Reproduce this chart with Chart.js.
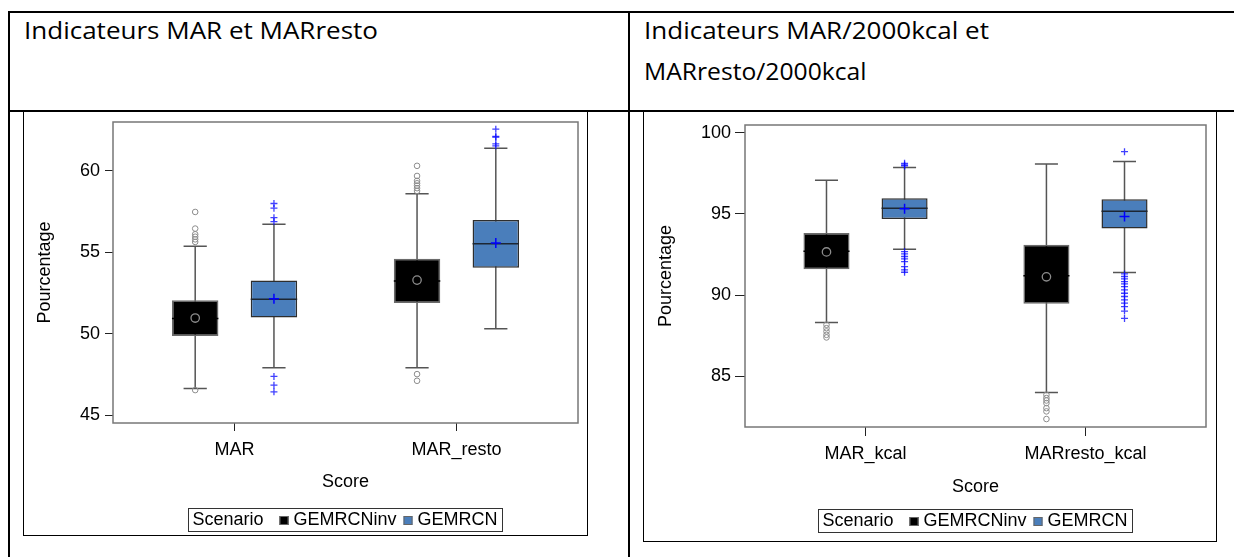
<!DOCTYPE html>
<html>
<head>
<meta charset="utf-8">
<script src="https://cdn.jsdelivr.net/npm/chart.js@4.4.0/dist/chart.umd.min.js"></script>
<style>
  body { margin:0; background:#fff; width:1234px; height:557px; overflow:hidden; position:relative; }
  .ln { position:absolute; background:#000; }
  .hd { position:absolute; font-family:"Open Sans", sans-serif; font-size:23px; line-height:23px; color:#000; white-space:nowrap; transform-origin:0 0; }
  .cv { position:absolute; }
</style>
</head>
<body>
<!-- table borders -->
<div class="ln" style="left:8px;top:11px;width:1226px;height:2px"></div>
<div class="ln" style="left:8px;top:110px;width:1226px;height:2px"></div>
<div class="ln" style="left:8px;top:11px;width:2px;height:546px"></div>
<div class="ln" style="left:628px;top:11px;width:2px;height:546px"></div>
<!-- picture frames -->
<div class="ln" style="left:23px;top:112px;width:1px;height:424px"></div>
<div class="ln" style="left:23px;top:535px;width:565px;height:1px"></div>
<div class="ln" style="left:587px;top:112px;width:1px;height:424px"></div>
<div class="ln" style="left:643px;top:112px;width:1px;height:430px"></div>
<div class="ln" style="left:643px;top:541px;width:574px;height:1px"></div>
<div class="ln" style="left:1216px;top:112px;width:1px;height:430px"></div>

<div class="hd" data-w="354" style="left:24px;top:19px">Indicateurs MAR et MARresto</div>
<div class="hd" data-w="345" style="left:644px;top:19px">Indicateurs MAR/2000kcal et</div>
<div class="hd" data-w="222" style="left:644px;top:60px">MARresto/2000kcal</div>

<div class="cv" style="left:24px;top:112px;width:563px;height:423px"><canvas id="chartA"></canvas></div>
<div class="cv" style="left:644px;top:112px;width:572px;height:429px"><canvas id="chartB"></canvas></div>

<script>
// scenarios (legend)
const scenarios = ['GEMRCNinv', 'GEMRCN'];

// ---- chart A : MAR et MARresto ----
const catsA = ['MAR', 'MAR_resto'];
const ticksA = [45, 50, 55, 60];
const invBoxA = [[49.87, 52.06], [51.89, 54.61]];      // Q1, Q3
const invMedA = [50.95, 53.25];
const invMeanA = [50.97, 53.30];
const invWhiskA = [[46.65, 55.37], [47.92, 58.59]];
const invOutA = [[57.48, 56.46, 56.11, 55.96, 55.80, 55.64, 46.55],
                 [60.31, 59.69, 59.39, 59.24, 59.10, 58.94, 58.77, 47.53, 47.12]];
const gemBoxA = [[51.01, 53.28], [54.06, 56.99]];
const gemMedA = [52.12, 55.53];
const gemMeanA = [52.15, 55.57];
const gemWhiskA = [[47.92, 56.72], [50.31, 61.39]];
const gemOutA = [[58.00, 57.71, 57.13, 56.89, 47.39, 46.85, 46.44],
                 [62.56, 62.11, 62.07, 61.66, 61.54]];

// ---- chart B : MAR/2000kcal et MARresto/2000kcal ----
const catsB = ['MAR_kcal', 'MARresto_kcal'];
const ticksB = [85, 90, 95, 100];
const invBoxB = [[91.60, 93.83], [89.47, 93.11]];
const invMedB = [92.70, 91.20];
const invMeanB = [92.66, 91.13];
const invWhiskB = [[88.32, 97.07], [84.02, 98.07]];
const invOutB = [[88.18, 87.97, 87.77, 87.56, 87.40],
                 [83.87, 83.67, 83.52, 83.36, 83.05, 82.85, 82.38]];
const gemBoxB = [[94.69, 95.96], [94.10, 95.90]];
const gemMedB = [95.35, 95.16];
const gemMeanB = [95.31, 94.84];
const gemWhiskB = [[92.83, 97.85], [91.39, 98.22]];
const gemOutB = [[98.11, 98.01, 97.95, 92.68, 92.54, 92.38, 92.23, 92.07, 91.76, 91.56, 91.41],
                 [98.83, 91.31, 91.15, 91.00, 90.84, 90.70, 90.53, 90.33, 90.12, 89.92, 89.71, 89.51, 89.30, 89.02, 88.57]];

// styles
const invColor = '#000000';
const gemColor = '#4a7ebb';
const catPct = 0.71;
const barPct = 0.59;
const xPad = 0.548;

Chart.defaults.font.family = '"Liberation Sans", Arial, sans-serif';
Chart.defaults.font.size = 18;
Chart.defaults.color = '#000';

// whiskers, medians, frame and legend
const boxPlugin = {
  id: 'boxplot',
  beforeDatasetsDraw(chart) {
    const ctx = chart.ctx, y = chart.scales.y;
    chart.data.datasets.forEach((ds, di) => {
      if (!ds.whisk) return;
      chart.getDatasetMeta(di).data.forEach((bar, i) => {
        const p = bar.getProps(['x', 'width'], true);
        const yl = y.getPixelForValue(ds.whisk[i][0]);
        const yh = y.getPixelForValue(ds.whisk[i][1]);
        const cap = p.width / 4;
        ctx.save();
        ctx.strokeStyle = ds.whiskColor;
        ctx.lineWidth = 1.5;
        ctx.beginPath();
        ctx.moveTo(p.x, yl); ctx.lineTo(p.x, yh);
        ctx.moveTo(p.x - cap, yl); ctx.lineTo(p.x + cap, yl);
        ctx.moveTo(p.x - cap, yh); ctx.lineTo(p.x + cap, yh);
        ctx.stroke();
        ctx.restore();
      });
    });
  },
  afterDatasetDraw(chart, args) {
    const ds = chart.data.datasets[args.index];
    if (!ds.med) return;
    const ctx = chart.ctx, y = chart.scales.y;
    args.meta.data.forEach((bar, i) => {
      const p = bar.getProps(['x', 'width'], true);
      const ym = y.getPixelForValue(ds.med[i]);
      ctx.save();
      ctx.strokeStyle = ds.medColor;
      ctx.lineWidth = 1.5;
      ctx.beginPath();
      ctx.moveTo(p.x - p.width / 2, ym); ctx.lineTo(p.x + p.width / 2, ym);
      ctx.stroke();
      ctx.restore();
    });
  },
  afterDraw(chart, args, opts) {
    const ctx = chart.ctx, a = chart.chartArea;
    ctx.save();
    ctx.strokeStyle = '#777';
    ctx.lineWidth = 1.5;
    ctx.strokeRect(a.left, a.top, a.right - a.left, a.bottom - a.top);

    // legend
    ctx.font = '18px "Liberation Sans", Arial, sans-serif';
    const items = chart.data.datasets.filter(d => d.type === 'bar');
    const sq = 9, gap = 5, h = 23;
    const wt = ctx.measureText('Scenario').width;
    let total = 4 + wt + 16;
    items.forEach((d, i) => { total += sq + gap + ctx.measureText(d.label).width + (i < items.length - 1 ? 7 : 5); });
    let x = (a.left + a.right) / 2 - total / 2;
    const top = opts.legendTop, cy = top + h / 2 + 1;
    ctx.strokeStyle = '#333';
    ctx.lineWidth = 1;
    ctx.strokeRect(Math.round(x) + 0.5, top + 0.5, Math.round(total), h);
    ctx.fillStyle = '#000';
    ctx.textBaseline = 'middle';
    ctx.fillText('Scenario', x + 4, cy);
    x += 4 + wt + 16;
    items.forEach(d => {
      ctx.fillStyle = d.backgroundColor;
      ctx.fillRect(x, cy - sq / 2, sq, sq);
      ctx.strokeStyle = '#666';
      ctx.strokeRect(x + 0.5, cy - sq / 2 + 0.5, sq - 1, sq - 1);
      x += sq + gap;
      ctx.fillStyle = '#000';
      ctx.fillText(d.label, x, cy);
      x += ctx.measureText(d.label).width + 7;
    });
    ctx.restore();
  }
};

function points(groups, dx) {
  return groups.flatMap((vals, i) => vals.map(v => ({ x: i + dx, y: v })));
}

function makeChart(id, d, lay) {
  const dx = catPct / 4;
  const datasets = [
    { type: 'bar', label: scenarios[0], data: d.invBox.map((b, i) => ({ x: i, y: b })),
      backgroundColor: invColor, borderColor: '#6a6a6a', borderWidth: 1.5, borderSkipped: false,
      whisk: d.invWhisk, med: d.invMed, medColor: '#000', whiskColor: '#555', order: 3 },
    { type: 'bar', label: scenarios[1], data: d.gemBox.map((b, i) => ({ x: i, y: b })),
      backgroundColor: gemColor, borderColor: '#2e2e2e', borderWidth: 1.5, borderSkipped: false,
      whisk: d.gemWhisk, med: d.gemMed, medColor: '#1c2633', whiskColor: '#555', order: 3 },
    { type: 'scatter', data: points(d.invOut, -dx), pointStyle: 'circle', pointRadius: 2.8,
      borderColor: '#8c8c8c', backgroundColor: 'rgba(0,0,0,0)', borderWidth: 1, order: 1 },
    { type: 'scatter', data: points(d.gemOut, dx), pointStyle: 'cross', pointRadius: 3.5,
      borderColor: 'rgba(0,0,255,0.75)', borderWidth: 1.3, order: 1 },
    { type: 'scatter', data: d.invMean.map((v, i) => ({ x: i - dx, y: v })), pointStyle: 'circle', pointRadius: 4.2,
      borderColor: '#8c8c8c', backgroundColor: 'rgba(0,0,0,0)', borderWidth: 1.3, order: 0 },
    { type: 'scatter', data: d.gemMean.map((v, i) => ({ x: i + dx, y: v })), pointStyle: 'cross', pointRadius: 5,
      borderColor: '#0000ff', borderWidth: 1.5, order: 0 }
  ];

  return new Chart(document.getElementById(id), {
    type: 'bar',
    data: { datasets },
    plugins: [boxPlugin],
    options: {
      responsive: true,
      maintainAspectRatio: false,
      animation: false,
      events: [],
      categoryPercentage: catPct,
      barPercentage: barPct,
      layout: { autoPadding: false, padding: lay.pad },
      plugins: {
        legend: { display: false },
        tooltip: { enabled: false },
        boxplot: { legendTop: lay.legendTop }
      },
      scales: {
        x: {
          type: 'linear',
          offset: false,
          min: -xPad,
          max: d.cats.length - 1 + xPad,
          bounds: 'data',
          afterBuildTicks: s => { s.ticks = d.cats.map((c, i) => ({ value: i })); },
          afterFit: s => { s.height = lay.xH; s.paddingLeft = 0; s.paddingRight = 0; },
          ticks: { callback: v => d.cats[v], padding: lay.xTickPad, maxRotation: 0, autoSkip: false },
          grid: { offset: false, drawOnChartArea: false, drawTicks: true, tickLength: lay.xTickLen, color: '#222' },
          border: { display: false },
          title: { display: true, text: 'Score', padding: { top: 0, bottom: lay.scorePad } }
        },
        y: {
          min: lay.yMin,
          max: lay.yMax,
          bounds: 'data',
          afterBuildTicks: s => { s.ticks = d.ticks.map(v => ({ value: v })); },
          afterFit: s => { s.width = lay.yW; s.paddingTop = 0; s.paddingBottom = 0; },
          ticks: { padding: lay.yTickPad },
          grid: { drawOnChartArea: false, drawTicks: true, tickLength: lay.yTickLen, color: '#222' },
          border: { display: false },
          title: { display: true, text: 'Pourcentage', padding: { top: lay.titlePad, bottom: 0 } }
        }
      }
    }
  });
}

makeChart('chartA',
  { cats: catsA, ticks: ticksA, invBox: invBoxA, invMed: invMedA, invMean: invMeanA, invWhisk: invWhiskA, invOut: invOutA,
    gemBox: gemBoxA, gemMed: gemMedA, gemMean: gemMeanA, gemWhisk: gemWhiskA, gemOut: gemOutA },
  { yMin: 44.53, yMax: 63.0, yW: 89, xH: 112, pad: { left: 0, top: 10, right: 9, bottom: 0 },
    yTickLen: 8, yTickPad: 5, titlePad: 10, xTickLen: 8, xTickPad: 8, scorePad: 42, legendTop: 396 });

makeChart('chartB',
  { cats: catsB, ticks: ticksB, invBox: invBoxB, invMed: invMedB, invMean: invMeanB, invWhisk: invWhiskB, invOut: invOutB,
    gemBox: gemBoxB, gemMed: gemMedB, gemMean: gemMeanB, gemWhisk: gemWhiskB, gemOut: gemOutB },
  { yMin: 81.89, yMax: 100.47, yW: 101, xH: 114, pad: { left: 0, top: 13, right: 10, bottom: 0 },
    yTickLen: 10, yTickPad: 4, titlePad: 11, xTickLen: 9, xTickPad: 7, scorePad: 43.5, legendTop: 397 });

// header text: fit to the widths of the original cells' text
document.querySelectorAll('.hd').forEach(el => {
  el.style.transform = 'scaleX(' + (+el.dataset.w / el.offsetWidth) + ')';
});
</script>
</body>
</html>
